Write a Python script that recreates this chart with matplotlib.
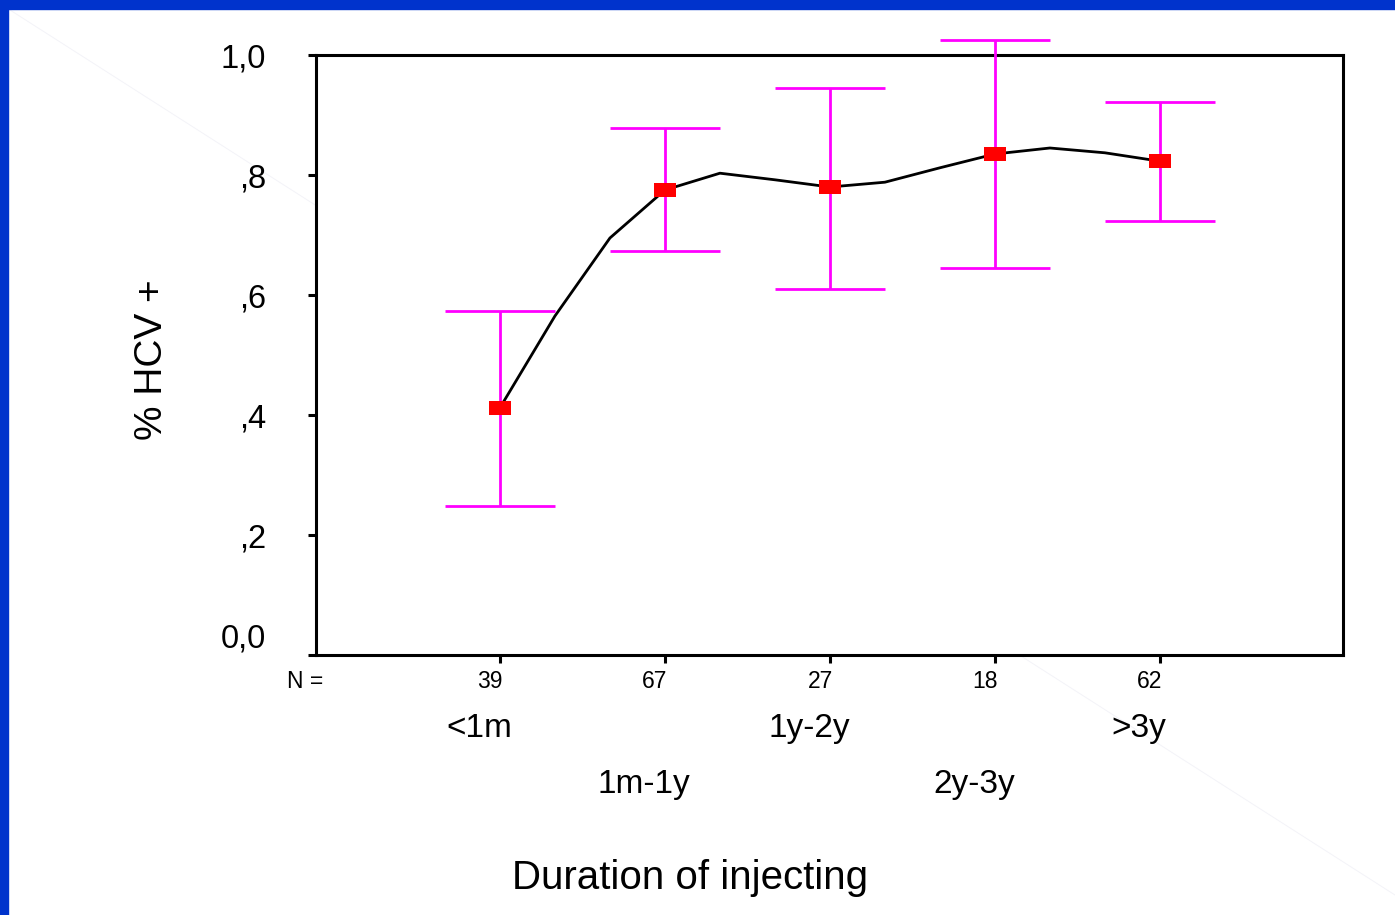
#!/usr/bin/env python3
"""HCV positivity by duration of injecting (mean with error bars)."""
import matplotlib

matplotlib.use("Agg")
import matplotlib.pyplot as plt
from matplotlib.lines import Line2D
from matplotlib.patches import Rectangle

plt.rcParams.update({"font.family": ["Liberation Sans", "DejaVu Sans"]})

categories = ["<1m", "1m-1y", "1y-2y", "2y-3y", ">3y"]
n_counts = ["39", "67", "27", "18", "62"]
means = [0.412, 0.775, 0.780, 0.835, 0.823]
ci_low = [0.248, 0.673, 0.610, 0.645, 0.723]
ci_high = [0.573, 0.878, 0.945, 1.025, 0.922]

# smoothed fit line, vertices at thirds between categories
fit_x = [0, 1 / 3, 2 / 3, 1, 4 / 3, 5 / 3, 2, 7 / 3, 8 / 3, 3, 10 / 3, 11 / 3, 4]
fit_y = [0.412, 0.565, 0.695, 0.775, 0.803, 0.792, 0.780, 0.788, 0.812, 0.835, 0.845, 0.837, 0.823]

yticks = [0.0, 0.2, 0.4, 0.6, 0.8, 1.0]
ytick_labels = ["0,0", ",2", ",4", ",6", ",8", "1,0"]

BLUE = "#0033cc"
MAGENTA = "#ff00ff"

fig = plt.figure(figsize=(13.95, 9.15), dpi=100)
fig.patch.set_facecolor("white")

# faint diagonal artefact + blue slide border
fig.add_artist(Line2D([10 / 1395, 1395 / 1395], [1 - 10 / 915, 1 - 895 / 915],
                      transform=fig.transFigure, color="#f3f3f8", lw=0.7, zorder=0))
fig.add_artist(Rectangle((0, 0), 8 / 1395, 1, transform=fig.transFigure, color=BLUE, zorder=5))
fig.add_artist(Rectangle((0, 1 - 9 / 915), 1, 9 / 915, transform=fig.transFigure, color=BLUE, zorder=5))

ax = fig.add_axes([316 / 1395, 1 - 655 / 915, 1027 / 1395, 600 / 915])
x = list(range(len(categories)))

ax.plot(fit_x, fit_y, color="black", lw=2.0, zorder=2)
lower = [m - lo for m, lo in zip(means, ci_low)]
upper = [hi - m for m, hi in zip(means, ci_high)]
eb = ax.errorbar(x, means, yerr=[lower, upper], fmt="none", ecolor=MAGENTA,
                 elinewidth=2.0, capsize=39.6, capthick=2.0, zorder=3)
for art in list(eb.lines[1]) + list(eb.lines[2]):
    art.set_clip_on(False)
rect = [(-11, -7), (11, -7), (11, 7), (-11, 7), (-11, -7)]
ax.plot(x, means, linestyle="none", marker=rect, markersize=16,
        color="#ff0000", markeredgewidth=0, zorder=4, clip_on=False)

ax.set_xlim(-1.115, 5.11)
ax.set_ylim(0, 1.0)
ax.set_yticks(yticks)
ax.set_yticklabels(ytick_labels, fontsize=23.5)
ax.get_yticklabels()[0].set_va("bottom")
ax.set_xticks(x)
ax.set_xticklabels([])
ax.tick_params(axis="y", length=6, width=2.2, pad=30)
ax.tick_params(axis="x", length=6, width=2.2)
for sp in ax.spines.values():
    sp.set_linewidth(2.2)

tr = ax.get_xaxis_transform()
ax.text(-1.18, -0.045, "N =", transform=tr, ha="center", va="center", fontsize=16.5)
for i, (n, cat) in enumerate(zip(n_counts, categories)):
    ax.text(i - 0.06, -0.045, n, transform=tr, ha="center", va="center", fontsize=16.5)
    row_y = -0.122 if i % 2 == 0 else -0.215
    ax.text(i - 0.125, row_y, cat, transform=tr, ha="center", va="center", fontsize=24)

fig.text(690 / 1395, 1 - 878 / 915, "Duration of injecting", ha="center", va="center", fontsize=29)
fig.text(152 / 1395, 1 - 360 / 915, "% HCV +", ha="center", va="center", fontsize=28, rotation=90)

fig.savefig("out.png", dpi=100, facecolor="white")
plt.close(fig)
